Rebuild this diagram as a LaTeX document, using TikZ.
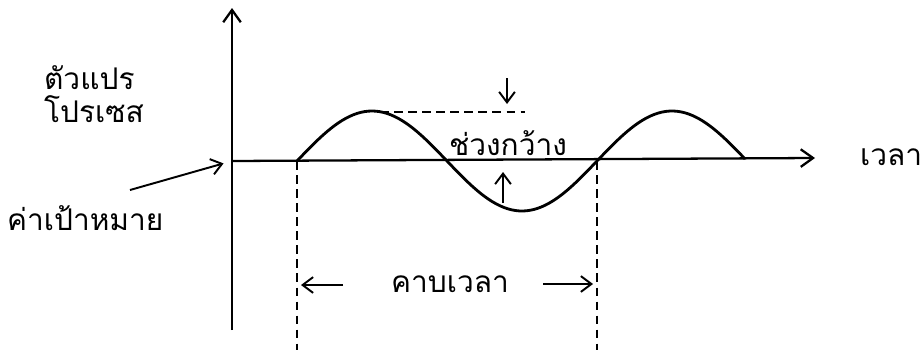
\documentclass[tikz,border=0pt]{standalone}
\usepackage{fontspec}
\newfontfamily\thaifont[Script=Thai]{Loma}
\usetikzlibrary{arrows.meta, positioning}

\begin{document}
\begin{tikzpicture}[
    x=0.02cm, y=-0.02cm,
    axis/.style={line width=1.3pt, -{Straight Barb[length=7pt, width=10pt]}},
    pointer/.style={line width=1.1pt, -{Straight Barb[length=6pt, width=9pt]}},
    guide/.style={line width=0.8pt, dash pattern=on 5pt off 3pt},
    wave/.style={line width=1.6pt},
    lbl/.style={font=\thaifont\fontsize{17}{19}\selectfont, inner sep=1pt}
  ]
  \useasboundingbox (0,0) rectangle (923,352);

  % axes
  \coordinate (origin) at (232,161);
  \coordinate (ytop) at (232,8);
  \coordinate (ybot) at (232,330);
  \coordinate (xend) at (815,158);
  \draw[axis] (ybot) -- (ytop);
  \draw[axis] (origin) -- (xend);

  % labels
  \node[lbl, anchor=west] (tlbl) at (858,157) {เวลา};
  \node[lbl, anchor=west, align=left] (pvlbl) at (42,94) {ตัวแปร\\โปรเซส};
  \node[lbl, anchor=west] (splbl) at (5,218) {ค่าเป้าหมาย};
  \coordinate (sptail) at (130,190);
  \draw[pointer, shorten >=5pt] (sptail) -- (origin);

  % process variable
  \draw[wave] plot[domain=297:745, samples=120, smooth]
    (\x, {161-50*sin((\x-297)*1.2)});

  % amplitude
  \coordinate (peak) at (380,112);
  \coordinate (ampend) at (525,112);
  \draw[guide] (peak) -- (ampend);
  \node[lbl] (amp) at (508,143) {ช่วงกว้าง};
  \coordinate (dtop) at (507,78);
  \coordinate (dbot) at (507,104);
  \coordinate (ubot) at (503,203);
  \coordinate (utop) at (503,172);
  \draw[pointer] (dtop) -- (dbot);
  \draw[pointer] (ubot) -- (utop);

  % period
  \coordinate (p1) at (297,161);
  \coordinate (p1b) at (297,350);
  \coordinate (p2) at (597,161);
  \coordinate (p2b) at (597,350);
  \draw[guide] (p1) -- (p1b);
  \draw[guide] (p2) -- (p2b);
  \node[lbl] (prd) at (450,284) {คาบเวลา};
  \coordinate (la) at (343,285);
  \coordinate (lb) at (301,285);
  \coordinate (ra) at (543,284);
  \coordinate (rb) at (593,284);
  \draw[pointer] (la) -- (lb);
  \draw[pointer] (ra) -- (rb);
\end{tikzpicture}
\end{document}
